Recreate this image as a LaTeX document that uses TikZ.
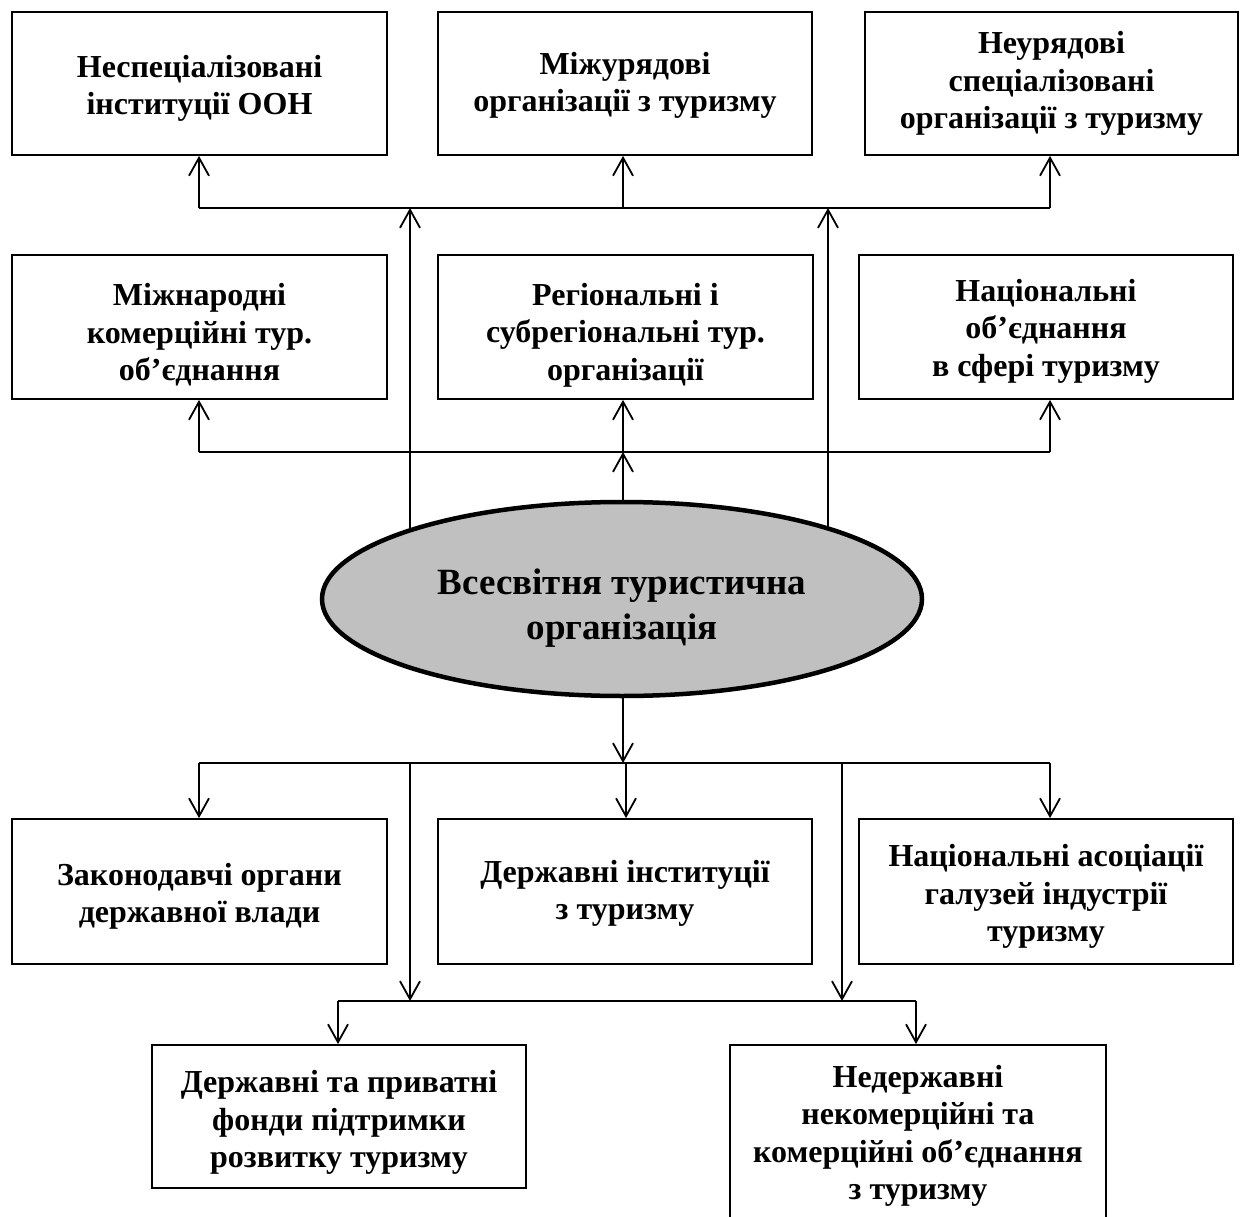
\documentclass[tikz,border=0pt]{standalone}
\usepackage{fontspec}
\setmainfont{Liberation Serif}
\usetikzlibrary{shapes.geometric,arrows.meta,backgrounds}
\definecolor{wtogray}{HTML}{C0C0C0}
\newcommand{\lbl}[2][0pt]{\parbox{366pt}{\centering\vspace*{#1}#2}}
\begin{document}
\begin{tikzpicture}[x=1pt,y=-1pt,
  orgbox/.style={draw, line width=1.8pt, inner sep=2pt, align=center,
    font=\bfseries\fontsize{32}{37.5}\selectfont, minimum height=143pt},
  link/.style={line width=1.8pt},
  arr/.style={line width=1.8pt, -{Straight Barb[length=18pt,width=20pt]}},
]
\useasboundingbox (0,0) rectangle (1243,1217);
\clip (0,0) rectangle (1243,1217);
% top row
\node[orgbox, minimum width=375pt] (b1) at (199.5,83.5) {\lbl[10pt]{Неспеціалізовані\\інституції ООН}};
\node[orgbox, minimum width=374pt] (b2) at (625,83.5) {\lbl[4pt]{Міжурядові\\організації з туризму}};
\node[orgbox, minimum width=373pt] (b3) at (1051.5,83.5) {\lbl{Неурядові\\спеціалізовані\\організації з туризму}};
% second row
\node[orgbox, minimum width=375pt, minimum height=144pt] (b4) at (199.5,327) {\lbl[16pt]{Міжнародні\\комерційні тур.\\об’єднання}};
\node[orgbox, minimum width=375pt, minimum height=144pt] (b5) at (625.5,327) {\lbl[16pt]{Регіональні і\\субрегіональні тур.\\організації}};
\node[orgbox, minimum width=374pt, minimum height=144pt] (b6) at (1046,327) {\lbl[8pt]{Національні\\об’єднання\\в сфері туризму}};
% centre
\node[ellipse, draw, line width=4.5pt, fill=wtogray, minimum width=600pt, minimum height=194pt,
  inner sep=0pt, align=center, font=\bfseries\fontsize{37}{45}\selectfont] (wto) at (622,599)
  {\parbox{390pt}{\centering\vspace*{18pt}Всесвітня туристична\\організація}};
% third row
\node[orgbox, minimum width=375pt, minimum height=145pt] (b7) at (199.5,891.5) {\lbl[10pt]{Законодавчі органи\\державної влади}};
\node[orgbox, minimum width=374pt, minimum height=145pt] (b8) at (625,891.5) {\lbl[4pt]{Державні інституції\\з туризму}};
\node[orgbox, minimum width=374pt, minimum height=145pt] (b9) at (1046,891.5) {\lbl[10pt]{Національні асоціації\\галузей індустрії\\туризму}};
% bottom row
\node[orgbox, minimum width=374pt] (b10) at (339,1116.5) {\lbl[12pt]{Державні та приватні\\фонди підтримки\\розвитку туризму}};
\node[orgbox, minimum width=376pt, minimum height=182pt] (b11) at (918,1136) {\lbl{Недержавні\\некомерційні та\\комерційні об’єднання\\з туризму}};

% bus coordinates
\coordinate (t1) at (199,208);
\coordinate (t2) at (623,208);
\coordinate (t3) at (1050,208);
\coordinate (tl) at (410,208);
\coordinate (tr) at (828,208);
\coordinate (m1) at (199,452);
\coordinate (m2) at (623,452);
\coordinate (m3) at (1050,452);
\coordinate (d1) at (199,763);
\coordinate (d2) at (623,763);
\coordinate (d2b) at (626,763);
\coordinate (d3) at (1050,763);
\coordinate (dl) at (410,763);
\coordinate (dr) at (842,763);
\coordinate (e1) at (338,1001);
\coordinate (el) at (410,1001);
\coordinate (er) at (842,1001);
\coordinate (e2) at (916,1001);

% top bus
\draw[link] (t1) -- (t3);
\draw[arr] (t1) -- (b1.south -| t1);
\draw[arr] (t2) -- (b2.south -| t2);
\draw[arr] (t3) -- (b3.south -| t3);
\begin{scope}[on background layer]
\draw[arr] (wto.center -| tl) -- (tl);
\draw[arr] (wto.center -| tr) -- (tr);
\end{scope}
% middle bus
\draw[link] (m1) -- (m3);
\draw[arr] (m1) -- (b4.south -| m1);
\draw[arr] (m2) -- (b5.south -| m2);
\draw[arr] (m3) -- (b6.south -| m3);
\draw[arr] (wto.north -| m2) -- (m2);
% lower bus
\draw[arr] (wto.south -| d2) -- (d2);
\draw[link] (d1) -- (d3);
\draw[arr] (d1) -- (b7.north -| d1);
\draw[arr] (d2b) -- (b8.north -| d2b);
\draw[arr] (d3) -- (b9.north -| d3);
\draw[arr] (dl) -- (el);
\draw[arr] (dr) -- (er);
\draw[link] (e1) -- (e2);
\draw[arr] (e1) -- (b10.north -| e1);
\draw[arr] (e2) -- (b11.north -| e2);
\end{tikzpicture}
\end{document}
